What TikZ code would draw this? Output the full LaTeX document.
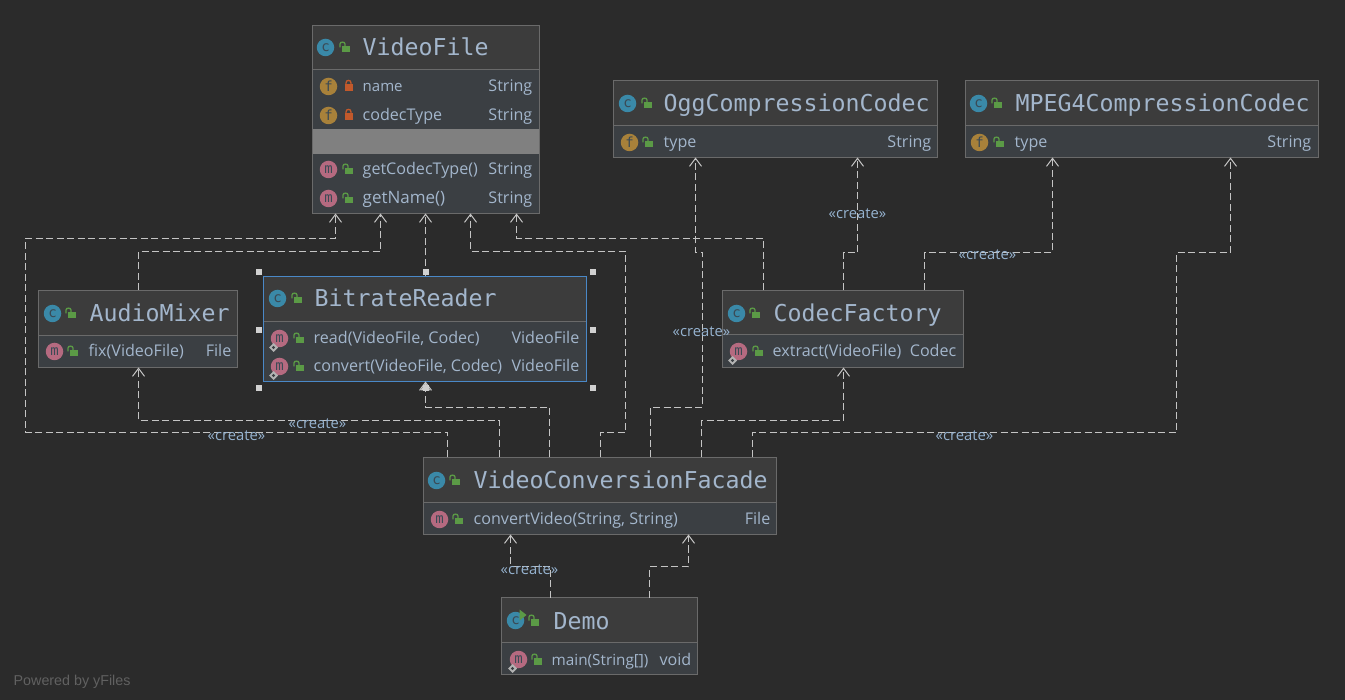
\documentclass[tikz,border=0pt]{standalone}
\usepackage{fontspec}
\setmainfont{Open Sans}
\newfontfamily\titlefont{DejaVu Sans Mono}
\newfontfamily\yfont{Liberation Sans}
\usetikzlibrary{arrows.meta}
\definecolor{bgc}{HTML}{2B2B2B}
\definecolor{headc}{HTML}{3C3C3C}
\definecolor{memc}{HTML}{3B3F43}
\definecolor{edgec}{HTML}{6A6A6A}
\definecolor{selc}{HTML}{4A88C7}
\definecolor{txtc}{HTML}{A3B6CC}
\definecolor{depc}{HTML}{C4C4C4}
\definecolor{lblc}{HTML}{96B3D0}
\definecolor{cc}{HTML}{3A89A8}
\definecolor{fc}{HTML}{A8813A}
\definecolor{mc}{HTML}{B56A80}
\definecolor{lgreen}{HTML}{5B9A46}
\definecolor{lred}{HTML}{C2592B}
\definecolor{iconink}{HTML}{3B4A55}
\newcount\nid
\newcommand\nn{\global\advance\nid by 1 }
\tikzset{
  umlnode/.style={draw=edgec,line width=1pt,fill=headc,inner sep=0pt,outer sep=0pt,rectangle},
  dep/.style={draw=depc,line width=1pt,dash pattern=on 7pt off 3.5pt,-{Straight Barb[length=8pt,width=12pt]}},
  lbl/.style={text=lblc,font=\fontsize{14.8}{15}\selectfont,inner sep=0pt,anchor=center},
  titletxt/.style={text=txtc,font=\titlefont\fontsize{23.25}{24}\selectfont,inner sep=0pt,anchor=base west},
  memtxt/.style={text=txtc,font=\fontsize{16.1}{17}\selectfont,inner sep=0pt,anchor=base west},
  typetxt/.style={text=txtc,font=\fontsize{16.1}{17}\selectfont,inner sep=0pt,anchor=base east},
  icon/.style={circle,inner sep=0pt,minimum size=17.5pt,text=iconink,font=\titlefont\fontsize{14}{14}\selectfont},
  handle/.style={fill=black!18,rectangle,inner sep=0pt,outer sep=0pt,minimum size=6pt},
}
% name, x1,y1,x2,y2, separator y, border colour
\newcommand\umlbox[7]{%
  \pgfmathsetmacro\bw{#4-#2}\pgfmathsetmacro\bh{#5-#3}%
  \pgfmathsetmacro\cx{(#2+#4)/2}\pgfmathsetmacro\cy{(#3+#5)/2}%
  \node[umlnode,minimum width=\bw pt,minimum height=\bh pt] (#1) at (\cx,\cy) {};
  \fill[memc] (#2,#6) rectangle (#4,#5);
  \draw[edgec,line width=1pt] (#2,#6) -- (#4,#6);
  \draw[#7,line width=1pt] (#1.north west) rectangle (#1.south east);
}
\newcommand\lockopen[2]{%
  \fill[lgreen] (#1-4,#2-1.5) rectangle (#1+4,#2+5);
  \draw[lgreen,line width=1.3pt] (#1-5.5,#2) -- (#1-5.5,#2-3.5) .. controls (#1-5.5,#2-6) and (#1-0.5,#2-6) .. (#1-0.5,#2-3.5) -- (#1-0.5,#2-1.5);
}
\newcommand\lockclosed[2]{%
  \fill[lred] (#1-4,#2-2) rectangle (#1+4,#2+5);
  \draw[lred,line width=1.3pt] (#1-2.5,#2-2) -- (#1-2.5,#2-3.5) .. controls (#1-2.5,#2-7) and (#1+2.5,#2-7) .. (#1+2.5,#2-3.5) -- (#1+2.5,#2-2);
}
\newcommand\ico[4]{\nn\node[icon,fill=#3,name=ic\the\nid] at (#1,#2) {#4};}
\newcommand\gear[2]{%
  \fill[black!30] (#1-6,#2+4.5) -- (#1-1.5,#2+9) -- (#1-6,#2+13.5) -- (#1-10.5,#2+9) -- cycle;
  \fill[memc] (#1-6,#2+9) circle[radius=1.6pt];
}
\newcommand\ttl[3]{\nn\node[titletxt,name=tt\the\nid] at (#1,#2+8.5) {#3};}
\newcommand\mem[3]{\nn\node[memtxt,name=mt\the\nid] at (#1,#2+5.5) {#3};}
\newcommand\typ[3]{\nn\node[typetxt,name=ty\the\nid] at (#1,#2+5.5) {#3};}
\newcommand\cre[2]{\nn\node[lbl,name=lb\the\nid] at (#1,#2) {«create»};}
\newcommand\hnd[2]{\nn\node[handle,name=hd\the\nid] at (#1,#2) {};}
\begin{document}
\begin{tikzpicture}[x=1pt,y=-1pt]
\useasboundingbox (0,0) rectangle (1345,700);
\fill[bgc] (0,0) rectangle (1345,700);
\begin{scope}[shift={(0.5,0.5)}]
% boxes
\umlbox{vf}{312}{25}{539}{213}{69}{edgec}
\umlbox{am}{38}{290}{237}{367}{335}{edgec}
\umlbox{br}{263}{276}{586}{381}{321}{selc}
\umlbox{cf}{722}{290}{963}{367}{334}{edgec}
\umlbox{og}{613}{80}{937}{157}{125}{edgec}
\umlbox{mp}{965}{80}{1318}{157}{125}{edgec}
\umlbox{fa}{423}{457}{776}{534}{502}{edgec}
\umlbox{de}{501}{597}{697}{674}{642}{edgec}
\fill[black!50!white] (312.5,129) rectangle (538.5,154);
% connectors
\draw[dep] ([xshift=24pt]fa.north west) -- (447,432) -- (25,432) -- (25,238) -- (335,238) -- ([xshift=23pt]vf.south west);
\draw[dep] ([xshift=100pt]am.north west) -- (138,251) -- (380,251) -- ([xshift=68pt]vf.south west);
\draw[dep] ([xshift=162pt]br.north west) -- ([xshift=113pt]vf.south west);
\draw[dep] ([xshift=177pt]fa.north west) -- (600,432) -- (625,432) -- (625,251) -- (470,251) -- ([xshift=158pt]vf.south west);
\draw[dep] ([xshift=41pt]cf.north west) -- (763,238) -- (516,238) -- ([xshift=204pt]vf.south west);
\draw[dep] ([xshift=76pt]fa.north west) -- (499,420) -- (138,420) -- ([xshift=100pt]am.south west);
\draw[dep] ([xshift=126pt]fa.north west) -- (549,407) -- (425,407) -- ([xshift=162pt]br.south west);
\draw[dep] ([xshift=227pt]fa.north west) -- (650,407) -- (702,407) -- (702,252) -- (695,252) -- ([xshift=82pt]og.south west);
\draw[dep] ([xshift=121pt]cf.north west) -- (843,252) -- (857,252) -- ([xshift=244pt]og.south west);
\draw[dep] ([xshift=202pt]cf.north west) -- (924,252) -- (1052,252) -- ([xshift=87pt]mp.south west);
\draw[dep] ([xshift=329pt]fa.north west) -- (752,432) -- (1176,432) -- (1176,252) -- (1230,252) -- ([xshift=265pt]mp.south west);
\draw[dep] ([xshift=278pt]fa.north west) -- (701,420) -- (843,420) -- ([xshift=121pt]cf.south west);
\draw[dep] ([xshift=49pt]de.north west) -- (550,566) -- (510,566) -- ([xshift=87pt]fa.south west);
\draw[dep] ([xshift=148pt]de.north west) -- (649,566) -- (688,566) -- ([xshift=265pt]fa.south west);
% connector labels
\cre{236}{435}\cre{317}{423}\cre{701}{331}\cre{857}{213}\cre{987}{254}\cre{964}{435}\cre{529}{569}
% VideoFile
\ico{325}{47}{cc}{c}\lockopen{345}{47}\ttl{362}{47}{VideoFile}
\ico{328}{86}{fc}{f}\lockclosed{348}{86}\mem{362}{86}{\fontsize{15}{16}\selectfont name}\typ{532}{86}{String}
\ico{328}{115}{fc}{f}\lockclosed{348}{115}\mem{362}{115}{codecType}\typ{532}{115}{String}
\ico{328}{169}{mc}{m}\lockopen{348}{169}\mem{362}{169}{getCodecType()}\typ{532}{169}{String}
\ico{328}{198}{mc}{m}\lockopen{348}{198}\mem{362}{198}{\fontsize{17}{18}\selectfont getName()}\typ{532}{198}{String}
% AudioMixer
\ico{52}{313}{cc}{c}\lockopen{71}{313}\ttl{89}{313}{AudioMixer}
\ico{54}{351}{mc}{m}\lockopen{73}{351}\mem{88}{351}{fix(VideoFile)}\typ{231}{351}{File}
% BitrateReader
\ico{277}{298}{cc}{c}\lockopen{297}{298}\ttl{314}{298}{BitrateReader}
\ico{279}{338}{mc}{m}\gear{279}{338}\lockopen{299}{338}\mem{313}{338}{read(VideoFile, Codec)}\typ{579}{338}{VideoFile}
\ico{279}{366}{mc}{m}\gear{279}{366}\lockopen{299}{366}\mem{313}{366}{convert(VideoFile, Codec)}\typ{579}{366}{VideoFile}
% CodecFactory
\ico{736}{313}{cc}{c}\lockopen{755}{313}\ttl{773}{313}{CodecFactory}
\ico{738}{351}{mc}{m}\gear{738}{351}\lockopen{758}{351}\mem{772}{351}{extract(VideoFile)}\typ{956}{351}{Codec}
% Ogg
\ico{627}{103}{cc}{c}\lockopen{647}{103}\ttl{663}{103}{OggCompressionCodec}
\ico{629}{142}{fc}{f}\lockopen{648}{142}\mem{663}{142}{type}\typ{931}{142}{String}
% MPEG4
\ico{978}{103}{cc}{c}\lockopen{997}{103}\ttl{1015}{103}{MPEG4CompressionCodec}
\ico{979}{142}{fc}{f}\lockopen{999}{142}\mem{1014}{142}{type}\typ{1311}{142}{String}
% Facade
\ico{436}{480}{cc}{c}\lockopen{455}{480}\ttl{473}{480}{VideoConversionFacade}
\ico{439}{519}{mc}{m}\lockopen{458}{519}\mem{473}{519}{convertVideo(String, String)}\typ{770}{519}{File}
% Demo
\ico{515}{620}{cc}{c}\fill[lgreen] (519,609) -- (526,614.5) -- (519,620) -- cycle;\lockopen{534}{620}\ttl{553}{620}{Demo}
\ico{518}{659}{mc}{m}\gear{518}{659}\lockopen{537}{659}\mem{551}{659}{\fontsize{15.3}{16}\selectfont main(String[])}\typ{691}{659}{void}
% selection handles
\hnd{258}{272}\hnd{425}{272}\hnd{592}{272}\hnd{258}{330}\hnd{592}{330}\hnd{258}{388}\hnd{425}{388}\hnd{592}{388}
\fill[black!20] (425,382.5) -- (430,390) -- (420,390) -- cycle;
\node[inner sep=0pt,anchor=base west,text=black!62!white,font=\yfont\fontsize{14.3}{15}\selectfont] (pw) at (13,685) {Powered by yFiles};
\end{scope}
\end{tikzpicture}
\end{document}
